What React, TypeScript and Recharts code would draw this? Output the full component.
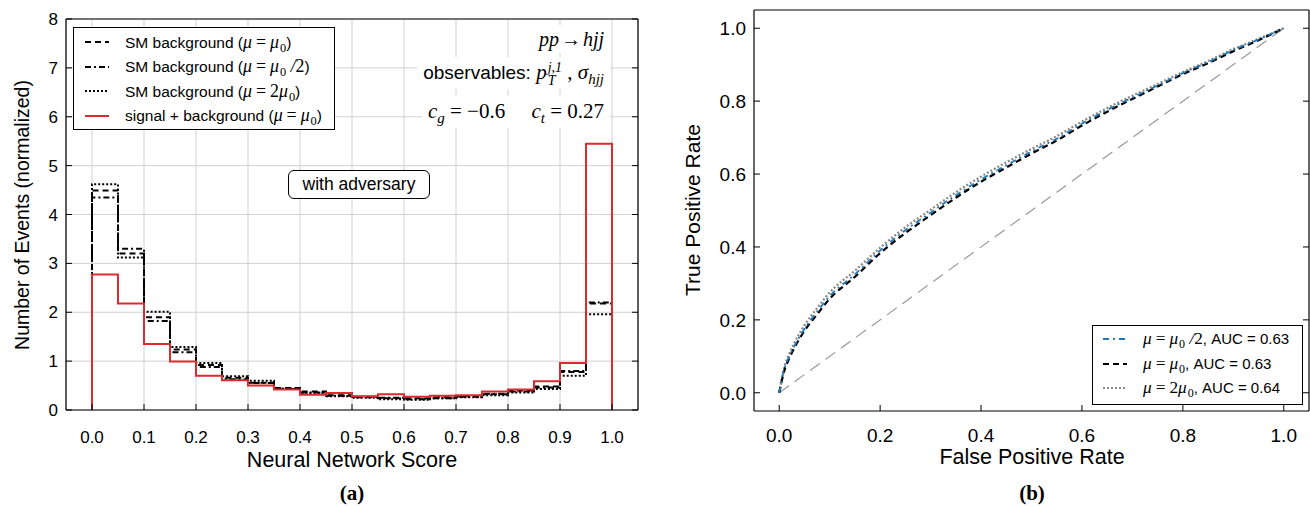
import React from 'react';
import { LineChart, Line, XAxis, YAxis, CartesianGrid } from 'recharts';

// histogram bins (left edges), width 0.05
const binStarts = [0, 0.05, 0.1, 0.15, 0.2, 0.25, 0.3, 0.35, 0.4, 0.45, 0.5, 0.55, 0.6, 0.65, 0.7, 0.75, 0.8, 0.85, 0.9, 0.95];
const histEnd = 1.0;

const sigBkg = [2.77, 2.18, 1.35, 0.99, 0.7, 0.61, 0.5, 0.42, 0.31, 0.35, 0.28, 0.32, 0.27, 0.29, 0.3, 0.38, 0.42, 0.59, 0.96, 5.45];
const bkgNominal = [4.49, 3.2, 1.9, 1.24, 0.92, 0.66, 0.56, 0.45, 0.38, 0.3, 0.26, 0.24, 0.24, 0.26, 0.28, 0.32, 0.4, 0.48, 0.78, 2.18];
const bkgHalf = [4.35, 3.3, 1.82, 1.18, 0.88, 0.63, 0.55, 0.43, 0.36, 0.29, 0.27, 0.25, 0.22, 0.24, 0.27, 0.33, 0.38, 0.46, 0.8, 2.2];
const bkgDouble = [4.62, 3.12, 2.01, 1.29, 0.96, 0.69, 0.6, 0.44, 0.35, 0.28, 0.25, 0.22, 0.21, 0.24, 0.26, 0.3, 0.36, 0.43, 0.7, 1.96];

const scoreTicks = [0, 0.1, 0.2, 0.3, 0.4, 0.5, 0.6, 0.7, 0.8, 0.9, 1.0];
const eventTicks = [0, 1, 2, 3, 4, 5, 6, 7, 8];

// ROC curves
const rocFpr = [0, 0.01, 0.02, 0.03, 0.05, 0.075, 0.1, 0.15, 0.2, 0.25, 0.3, 0.35, 0.4, 0.45, 0.5, 0.55, 0.6, 0.65, 0.7, 0.75, 0.8, 0.85, 0.9, 0.95, 1.0];
const rocHalf = [0, 0.065, 0.1, 0.128, 0.175, 0.222, 0.265, 0.325, 0.39, 0.446, 0.494, 0.542, 0.585, 0.624, 0.662, 0.697, 0.738, 0.776, 0.81, 0.843, 0.877, 0.907, 0.94, 0.969, 1.0];
const rocNominal = [0, 0.06, 0.095, 0.123, 0.17, 0.215, 0.258, 0.318, 0.383, 0.438, 0.487, 0.535, 0.579, 0.618, 0.656, 0.692, 0.733, 0.771, 0.806, 0.84, 0.874, 0.904, 0.937, 0.967, 1.0];
const rocDouble = [0, 0.07, 0.107, 0.137, 0.185, 0.232, 0.275, 0.335, 0.398, 0.454, 0.502, 0.55, 0.593, 0.632, 0.669, 0.704, 0.744, 0.781, 0.815, 0.847, 0.88, 0.91, 0.943, 0.971, 1.0];
const chanceLine = [0, 1];
const rateTicks = [0, 0.2, 0.4, 0.6, 0.8, 1.0];

const SANS = '"Liberation Sans", Arial, sans-serif';
const SERIF = '"Liberation Serif", "Times New Roman", serif';
const RED = '#dc2a2e';

// outline of a step histogram, dropping to zero at both ends
const toSteps = (vals: number[]) => [
  { x: binStarts[0], y: 0 },
  ...vals.map((v, i) => ({ x: binStarts[i], y: v })),
  { x: histEnd, y: vals[vals.length - 1] },
  { x: histEnd, y: 0 },
];
const toRoc = (tpr: number[]) => rocFpr.map((x, i) => ({ x, y: tpr[i] }));

const emptyTick = () => <g />;
const axisStroke = { stroke: '#000', strokeWidth: 1.2 };

const I = ({ children }: { children: React.ReactNode }) => (
  <span style={{ fontFamily: SERIF, fontStyle: 'italic', fontSize: '1.15em' }}>{children}</span>
);
const N = ({ children }: { children: React.ReactNode }) => (
  <span style={{ fontFamily: SERIF, fontSize: '1.15em' }}>{children}</span>
);
const Sub = ({ children }: { children: React.ReactNode }) => (
  <span style={{ fontFamily: SERIF, fontSize: '0.8em', position: 'relative', top: '0.32em', marginLeft: 1 }}>{children}</span>
);
const Eq = () => <span style={{ fontFamily: SERIF, fontSize: '1.15em', margin: '0 4px' }}>=</span>;

const Sample = ({ color, dash, width = 2 }: { color: string; dash?: string; width?: number }) => (
  <svg width={24} height={10} style={{ display: 'block' }}>
    <line x1={0} y1={5} x2={24} y2={5} stroke={color} strokeWidth={width} strokeDasharray={dash} />
  </svg>
);

const Centered = ({ x, y, rotate, style, children }: any) => (
  <div
    style={{
      position: 'absolute', left: x, top: y, whiteSpace: 'nowrap',
      transform: `translate(-50%, -50%)${rotate ? ' rotate(-90deg)' : ''}`,
      ...style,
    }}
  >
    {children}
  </div>
);

const legendA = [
  { color: '#000', dash: '6 4', label: <>SM background (<I>μ</I><Eq /><I>μ</I><Sub>0</Sub>)</> },
  { color: '#000', dash: '6 3 2 3', label: <>SM background (<I>μ</I><Eq /><I>μ</I><Sub>0</Sub><I>&nbsp;/</I><N>2</N>)</> },
  { color: '#000', dash: '2 2', label: <>SM background (<I>μ</I><Eq /><N>2</N><I>μ</I><Sub>0</Sub>)</> },
  { color: RED, dash: undefined, label: <>signal + background (<I>μ</I><Eq /><I>μ</I><Sub>0</Sub>)</> },
];

const legendB = [
  { color: '#1f77b4', dash: '6 4 2 4', label: <><I>μ</I><Eq /><I>μ</I><Sub>0</Sub><I>&nbsp;/</I><N>2</N>, AUC = 0.63</> },
  { color: '#000', dash: '6 4', label: <><I>μ</I><Eq /><I>μ</I><Sub>0</Sub>, AUC = 0.63</> },
  { color: '#888', dash: '2 2', label: <><I>μ</I><Eq /><N>2</N><I>μ</I><Sub>0</Sub>, AUC = 0.64</> },
];

export default function App() {
  return (
    <div style={{ position: 'absolute', left: 0, top: 0, width: 1310, height: 507, background: '#fff', fontFamily: SANS, color: '#000' }}>
      {/* (a) histogram */}
      <div style={{ position: 'absolute', left: 0, top: 0 }}>
        <LineChart width={660} height={507} margin={{ top: 18, right: 21, bottom: 67, left: 26 }}>
          <CartesianGrid stroke="#d0d0d0" strokeWidth={1} />
          <XAxis
            type="number" dataKey="x" domain={[-0.05, 1.05]} allowDataOverflow ticks={scoreTicks}
            tickFormatter={(v: number) => v.toFixed(1)} height={30} tickSize={-6} tickMargin={27}
            axisLine={axisStroke} tickLine={{ stroke: '#000' }}
            tick={{ fill: '#000', fontSize: 17, fontFamily: SANS }}
          />
          <XAxis
            xAxisId="top" orientation="top" type="number" domain={[-0.05, 1.05]} allowDataOverflow ticks={scoreTicks}
            height={1} tickSize={-6} tick={emptyTick} axisLine={axisStroke} tickLine={{ stroke: '#000' }}
          />
          <YAxis
            type="number" domain={[0, 8]} allowDataOverflow ticks={eventTicks} width={40}
            tickSize={-6} tickMargin={14} axisLine={axisStroke} tickLine={{ stroke: '#000' }}
            tick={{ fill: '#000', fontSize: 17, fontFamily: SANS }}
          />
          <YAxis
            yAxisId="right" orientation="right" type="number" domain={[0, 8]} allowDataOverflow ticks={eventTicks}
            width={1} tickSize={-6} tick={emptyTick} axisLine={axisStroke} tickLine={{ stroke: '#000' }}
          />
          <Line data={toSteps(bkgDouble)} dataKey="y" type="stepAfter" stroke="#000" strokeWidth={2} strokeDasharray="2 2" dot={false} isAnimationActive={false} />
          <Line data={toSteps(bkgHalf)} dataKey="y" type="stepAfter" stroke="#000" strokeWidth={2} strokeDasharray="6 3 2 3" dot={false} isAnimationActive={false} />
          <Line data={toSteps(bkgNominal)} dataKey="y" type="stepAfter" stroke="#000" strokeWidth={2} strokeDasharray="6 4" dot={false} isAnimationActive={false} />
          <Line data={toSteps(sigBkg)} dataKey="y" type="stepAfter" stroke={RED} strokeWidth={2} dot={false} isAnimationActive={false} />
        </LineChart>
      </div>

      {/* legend (a) */}
      <div style={{ position: 'absolute', left: 73, top: 27, width: 262, height: 103, border: '1px solid #000', background: '#fff', boxSizing: 'border-box', paddingTop: 2 }}>
        {legendA.map((r, i) => (
          <div key={i} style={{ display: 'flex', alignItems: 'center', height: 24.5, fontSize: 15.5 }}>
            <div style={{ marginLeft: 11, marginRight: 16 }}><Sample color={r.color} dash={r.dash} /></div>
            <div>{r.label}</div>
          </div>
        ))}
      </div>

      {/* annotations (a) */}
      <div style={{ position: 'absolute', right: 1310 - 610, top: 25, background: '#fff', padding: '0 6px', fontSize: 20, lineHeight: '28px', fontFamily: SERIF, fontStyle: 'italic' }}>
        pp<span style={{ fontStyle: 'normal', margin: '0 2px' }}>→</span>hjj
      </div>
      <div style={{ position: 'absolute', right: 1310 - 610, top: 57, background: '#fff', padding: '0 6px', fontSize: 19, lineHeight: '30px' }}>
        observables: <span style={{ fontFamily: SERIF, fontStyle: 'italic', fontSize: 21 }}>p</span>
        <span style={{ display: 'inline-flex', flexDirection: 'column', verticalAlign: 'middle', fontFamily: SERIF, fontStyle: 'italic', fontSize: 14, lineHeight: '13px', marginLeft: 1 }}>
          <span>j,1</span>
          <span>T</span>
        </span>
        <span style={{ fontFamily: SERIF, fontSize: 21 }}> , </span>
        <span style={{ fontFamily: SERIF, fontStyle: 'italic', fontSize: 21 }}>σ</span>
        <span style={{ fontFamily: SERIF, fontStyle: 'italic', fontSize: 15, position: 'relative', top: 5 }}>hjj</span>
      </div>
      <div style={{ position: 'absolute', right: 1310 - 610, top: 96, background: '#fff', padding: '0 6px', fontSize: 21, lineHeight: '30px', fontFamily: SERIF }}>
        <i>c</i><span style={{ fontSize: 15, fontStyle: 'italic', position: 'relative', top: 5 }}>g</span> = −0.6&nbsp;&nbsp;&nbsp;&nbsp;&nbsp;<i>c</i><span style={{ fontSize: 15, fontStyle: 'italic', position: 'relative', top: 5 }}>t</span> = 0.27
      </div>
      <div style={{ position: 'absolute', left: 288, top: 170, width: 142, height: 29, border: '1px solid #000', borderRadius: 6, background: '#fff', boxSizing: 'border-box', display: 'flex', alignItems: 'center', justifyContent: 'center', fontSize: 17.5 }}>
        with adversary
      </div>

      <Centered x={22} y={215} rotate style={{ fontSize: 19.5 }}>Number of Events (normalized)</Centered>
      <Centered x={352} y={460} style={{ fontSize: 21.5 }}>Neural Network Score</Centered>
      <Centered x={352} y={493} style={{ fontSize: 21, fontFamily: SERIF, fontWeight: 'bold' }}>(a)</Centered>

      {/* (b) ROC */}
      <div style={{ position: 'absolute', left: 660, top: 0 }}>
        <LineChart width={650} height={507} margin={{ top: 9, right: 0, bottom: 66, left: 44 }}>
          <XAxis
            type="number" dataKey="x" domain={[-0.05, 1.05]} allowDataOverflow ticks={rateTicks}
            tickFormatter={(v: number) => v.toFixed(1)} height={30} tickSize={-6} tickMargin={24}
            axisLine={axisStroke} tickLine={{ stroke: '#000' }}
            tick={{ fill: '#000', fontSize: 19, fontFamily: SANS }}
          />
          <XAxis
            xAxisId="top" orientation="top" type="number" domain={[-0.05, 1.05]} allowDataOverflow ticks={rateTicks}
            height={1} tickSize={-6} tick={emptyTick} axisLine={axisStroke} tickLine={{ stroke: '#000' }}
          />
          <YAxis
            type="number" domain={[-0.05, 1.05]} allowDataOverflow ticks={rateTicks} width={50}
            tickFormatter={(v: number) => v.toFixed(1)} tickSize={-6} tickMargin={14}
            axisLine={axisStroke} tickLine={{ stroke: '#000' }}
            tick={{ fill: '#000', fontSize: 19, fontFamily: SANS }}
          />
          <YAxis
            yAxisId="right" orientation="right" type="number" domain={[-0.05, 1.05]} allowDataOverflow ticks={rateTicks}
            width={1} tickSize={-6} tick={emptyTick} axisLine={axisStroke} tickLine={{ stroke: '#000' }}
          />
          <Line data={chanceLine.map((v) => ({ x: v, y: v }))} dataKey="y" type="linear" stroke="#999" strokeWidth={1.2} strokeDasharray="12 7" dot={false} isAnimationActive={false} />
          <Line data={toRoc(rocDouble)} dataKey="y" type="monotone" stroke="#888" strokeWidth={2.2} strokeDasharray="2 2" dot={false} isAnimationActive={false} />
          <Line data={toRoc(rocNominal)} dataKey="y" type="monotone" stroke="#000" strokeWidth={2.2} strokeDasharray="6 4" dot={false} isAnimationActive={false} />
          <Line data={toRoc(rocHalf)} dataKey="y" type="monotone" stroke="#1f77b4" strokeWidth={1.8} strokeDasharray="6 4 2 4" dot={false} isAnimationActive={false} />
        </LineChart>
      </div>

      {/* legend (b) */}
      <div style={{ position: 'absolute', left: 1092, top: 325, width: 211, height: 80, border: '1px solid #000', background: '#fff', boxSizing: 'border-box', paddingTop: 1 }}>
        {legendB.map((r, i) => (
          <div key={i} style={{ display: 'flex', alignItems: 'center', height: 24.5, fontSize: 15 }}>
            <div style={{ marginLeft: 10, marginRight: 16 }}><Sample color={r.color} dash={r.dash} /></div>
            <div>{r.label}</div>
          </div>
        ))}
      </div>

      <Centered x={693} y={210} rotate style={{ fontSize: 21 }}>True Positive Rate</Centered>
      <Centered x={1032} y={457} style={{ fontSize: 21.5 }}>False Positive Rate</Centered>
      <Centered x={1032} y={493} style={{ fontSize: 21, fontFamily: SERIF, fontWeight: 'bold' }}>(b)</Centered>
    </div>
  );
}
